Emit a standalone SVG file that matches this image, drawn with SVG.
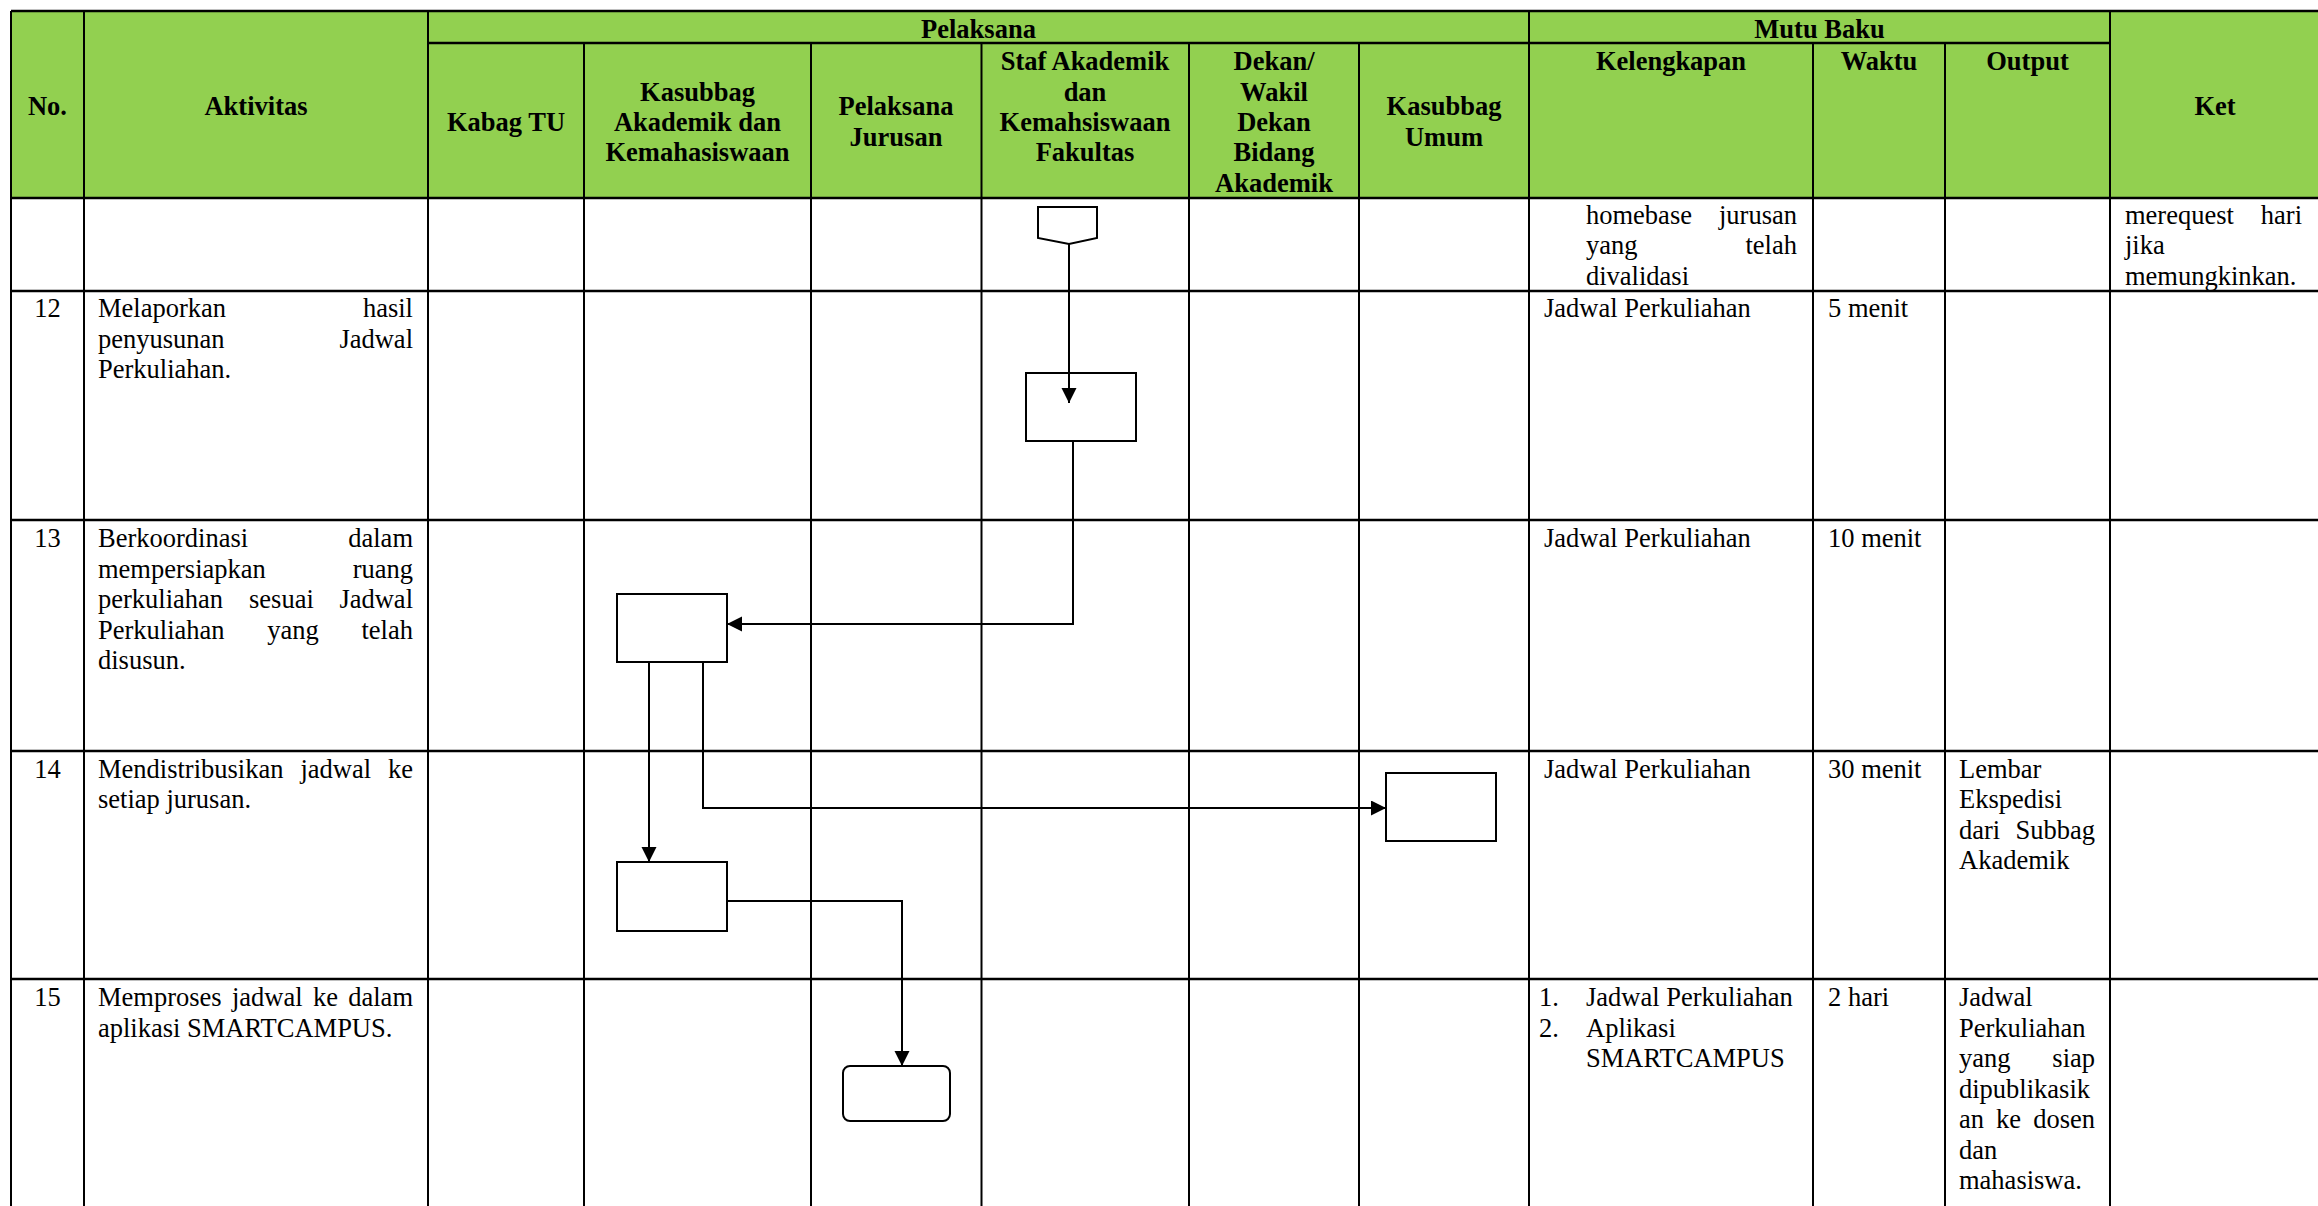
<svg xmlns="http://www.w3.org/2000/svg" width="2318" height="1206" viewBox="0 0 2318 1206">
<style>
.h{font-family:"Liberation Serif","Times New Roman",serif;font-size:26.5px;font-weight:bold;text-anchor:middle;fill:#000}
.t{font-family:"Liberation Serif","Times New Roman",serif;font-size:26.5px;fill:#000}
.e{text-anchor:end}
.m{text-anchor:middle}
.hl{stroke:#000;stroke-width:2.5}
.vl{stroke:#000;stroke-width:2}
.node{fill:#fff;stroke:#000;stroke-width:2}
.conn{fill:none;stroke:#000;stroke-width:2}
</style>
<defs>
<marker id="arr" markerUnits="userSpaceOnUse" markerWidth="16" markerHeight="16" refX="15" refY="7.5" orient="auto"><path d="M0,0 L15,7.5 L0,15 z" fill="#000"/></marker>
</defs>
<rect x="0" y="0" width="2318" height="1206" fill="#fff"/>
<rect x="11" y="11" width="2307" height="187" fill="#92D050"/>
<g id="grid">
<line class="hl" x1="11" y1="11" x2="2318" y2="11"/>
<line class="hl" x1="428" y1="43" x2="2110" y2="43"/>
<line class="hl" x1="11" y1="198" x2="2318" y2="198"/>
<line class="hl" x1="11" y1="291" x2="2318" y2="291"/>
<line class="hl" x1="11" y1="520" x2="2318" y2="520"/>
<line class="hl" x1="11" y1="751" x2="2318" y2="751"/>
<line class="hl" x1="11" y1="979" x2="2318" y2="979"/>
<line class="vl" x1="11" y1="11" x2="11" y2="1206"/>
<line class="vl" x1="84" y1="11" x2="84" y2="1206"/>
<line class="vl" x1="428" y1="11" x2="428" y2="1206"/>
<line class="vl" x1="584" y1="43" x2="584" y2="1206"/>
<line class="vl" x1="811" y1="43" x2="811" y2="1206"/>
<line class="vl" x1="981.5" y1="43" x2="981.5" y2="1206"/>
<line class="vl" x1="1189" y1="43" x2="1189" y2="1206"/>
<line class="vl" x1="1359" y1="43" x2="1359" y2="1206"/>
<line class="vl" x1="1529" y1="11" x2="1529" y2="1206"/>
<line class="vl" x1="1813" y1="43" x2="1813" y2="1206"/>
<line class="vl" x1="1945" y1="43" x2="1945" y2="1206"/>
<line class="vl" x1="2110" y1="11" x2="2110" y2="1206"/>
</g>
<g transform="translate(0,1.5)">
<g id="header">
<text class="h" x="47.5" y="113">No.</text>
<text class="h" x="256" y="113">Aktivitas</text>
<text class="h" x="978.5" y="36">Pelaksana</text>
<text class="h" x="506" y="129">Kabag TU</text>
<text class="h" x="697.5" y="99">Kasubbag</text>
<text class="h" x="697.5" y="129">Akademik dan</text>
<text class="h" x="697.5" y="159">Kemahasiswaan</text>
<text class="h" x="896" y="113">Pelaksana</text>
<text class="h" x="896" y="144">Jurusan</text>
<text class="h" x="1085" y="68">Staf Akademik</text>
<text class="h" x="1085" y="99">dan</text>
<text class="h" x="1085" y="129">Kemahsiswaan</text>
<text class="h" x="1085" y="159">Fakultas</text>
<text class="h" x="1274" y="68">Dekan/</text>
<text class="h" x="1274" y="99">Wakil</text>
<text class="h" x="1274" y="129">Dekan</text>
<text class="h" x="1274" y="159">Bidang</text>
<text class="h" x="1274" y="190">Akademik</text>
<text class="h" x="1444" y="113">Kasubbag</text>
<text class="h" x="1444" y="144">Umum</text>
<text class="h" x="1819.5" y="36">Mutu Baku</text>
<text class="h" x="1671" y="68">Kelengkapan</text>
<text class="h" x="1879" y="68">Waktu</text>
<text class="h" x="2027.5" y="68">Output</text>
<text class="h" x="2215" y="113">Ket</text>
</g>
<g id="row-cont">
<text class="t" x="1586" y="222">homebase</text><text class="t e" x="1797" y="222">jurusan</text>
<text class="t" x="1586" y="252.5">yang</text><text class="t e" x="1797" y="252.5">telah</text>
<text class="t" x="1586" y="283">divalidasi</text>
<text class="t" x="2125" y="222">merequest</text><text class="t e" x="2302" y="222">hari</text>
<text class="t" x="2125" y="252.5">jika</text>
<text class="t" x="2125" y="283">memungkinkan.</text>
</g>
<g id="row-12">
<text class="t m" x="47.5" y="315.5">12</text>
<text class="t" x="98" y="315.5">Melaporkan</text><text class="t e" x="413" y="315.5">hasil</text>
<text class="t" x="98" y="346">penyusunan</text><text class="t e" x="413" y="346">Jadwal</text>
<text class="t" x="98" y="376.5">Perkuliahan.</text>
<text class="t" x="1544" y="315.5">Jadwal Perkuliahan</text>
<text class="t" x="1828" y="315.5">5 menit</text>
</g>
<g id="row-13">
<text class="t m" x="47.5" y="545.5">13</text>
<text class="t" x="98" y="545.5">Berkoordinasi</text><text class="t e" x="413" y="545.5">dalam</text>
<text class="t" x="98" y="576">mempersiapkan</text><text class="t e" x="413" y="576">ruang</text>
<text class="t" x="98" y="606.5">perkuliahan</text><text class="t" x="249" y="606.5">sesuai</text><text class="t e" x="413" y="606.5">Jadwal</text>
<text class="t" x="98" y="637">Perkuliahan</text><text class="t" x="267.3" y="637">yang</text><text class="t e" x="413" y="637">telah</text>
<text class="t" x="98" y="667.5">disusun.</text>
<text class="t" x="1544" y="545.5">Jadwal Perkuliahan</text>
<text class="t" x="1828" y="545.5">10 menit</text>
</g>
<g id="row-14">
<text class="t m" x="47.5" y="776">14</text>
<text class="t" x="98" y="776">Mendistribusikan</text><text class="t" x="300.5" y="776">jadwal</text><text class="t e" x="413" y="776">ke</text>
<text class="t" x="98" y="806.5">setiap jurusan.</text>
<text class="t" x="1544" y="776">Jadwal Perkuliahan</text>
<text class="t" x="1828" y="776">30 menit</text>
<text class="t" x="1959" y="776">Lembar</text>
<text class="t" x="1959" y="806.5">Ekspedisi</text>
<text class="t" x="1959" y="837">dari</text><text class="t e" x="2095" y="837">Subbag</text>
<text class="t" x="1959" y="867.5">Akademik</text>
</g>
<g id="row-15">
<text class="t m" x="47.5" y="1004.5">15</text>
<text class="t" x="98" y="1004.5">Memproses</text><text class="t" x="232" y="1004.5">jadwal</text><text class="t" x="313" y="1004.5">ke</text><text class="t e" x="413" y="1004.5">dalam</text>
<text class="t" x="98" y="1035">aplikasi SMARTCAMPUS.</text>
<text class="t" x="1539" y="1004.5">1.</text><text class="t" x="1586" y="1004.5">Jadwal Perkuliahan</text>
<text class="t" x="1539" y="1035">2.</text><text class="t" x="1586" y="1035">Aplikasi</text>
<text class="t" x="1586" y="1065.5">SMARTCAMPUS</text>
<text class="t" x="1828" y="1004.5">2 hari</text>
<text class="t" x="1959" y="1004.5">Jadwal</text>
<text class="t" x="1959" y="1035">Perkuliahan</text>
<text class="t" x="1959" y="1065.5">yang</text><text class="t e" x="2095" y="1065.5">siap</text>
<text class="t" x="1959" y="1096">dipublikasik</text>
<text class="t" x="1959" y="1126.5">an</text><text class="t" x="1996" y="1126.5">ke</text><text class="t e" x="2095" y="1126.5">dosen</text>
<text class="t" x="1959" y="1157">dan</text>
<text class="t" x="1959" y="1187.5">mahasiswa.</text>
</g>
</g>
<g id="node-offpage"><polygon class="node" points="1038,207 1097,207 1097,238 1069,244 1038,238"/></g>
<g id="node-12"><rect class="node" x="1026" y="373" width="110" height="68"/></g>
<g id="node-13"><rect class="node" x="617" y="594" width="110" height="68"/></g>
<g id="node-14a"><rect class="node" x="617" y="862" width="110" height="69"/></g>
<g id="node-14b"><rect class="node" x="1386" y="773" width="110" height="68"/></g>
<g id="node-15"><rect class="node" x="843" y="1066" width="107" height="55" rx="7" ry="7"/></g>
<g id="connectors">
<path class="conn" d="M1069,244 V403" marker-end="url(#arr)"/>
<path class="conn" d="M1073,441 V624 H727" marker-end="url(#arr)"/>
<path class="conn" d="M649,662 V862" marker-end="url(#arr)"/>
<path class="conn" d="M703,662 V808 H1386" marker-end="url(#arr)"/>
<path class="conn" d="M727,901 H902 V1066" marker-end="url(#arr)"/>
</g>
</svg>
